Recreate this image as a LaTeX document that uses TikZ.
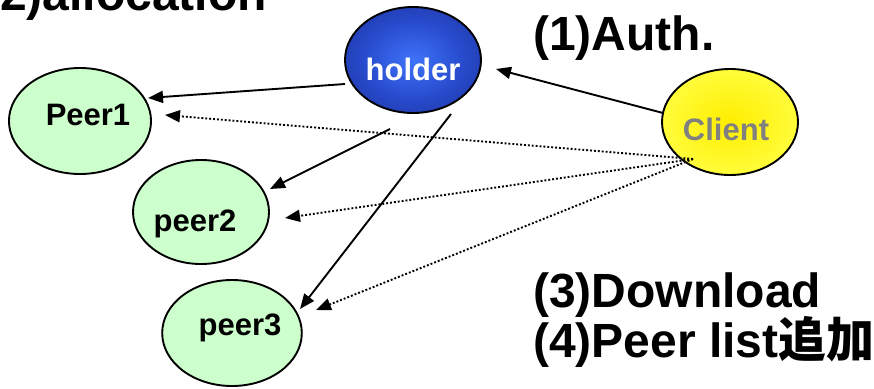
\documentclass[tikz,border=0pt]{standalone}
\usepackage{fontspec}
\setmainfont{Liberation Sans}
\newfontfamily\cjk{Noto Sans CJK JP}
\usetikzlibrary{calc,arrows.meta,shapes.geometric}
\definecolor{peerfill}{RGB}{204,255,204}
\definecolor{clientgrey}{RGB}{128,128,128}
\definecolor{hc}{RGB}{62,115,250}
\definecolor{hm}{RGB}{40,75,205}
\definecolor{ho}{RGB}{18,28,115}
\definecolor{cc}{RGB}{255,238,0}
\definecolor{co}{RGB}{255,255,70}
\pgfdeclareradialshading{holdershade}{\pgfpoint{0bp}{0bp}}{color(0bp)=(hc); color(18bp)=(hm); color(50bp)=(ho)}
\pgfdeclareradialshading{clientshade}{\pgfpoint{0bp}{0bp}}{color(0bp)=(cc); color(30bp)=(co); color(50bp)=(co)}
\newcommand{\lbl}[3]{\raisebox{#1}[0pt][0pt]{\kern#2#3}}
\tikzset{
  ell/.style={ellipse, draw=black, line width=1.9pt, inner sep=0pt,
    minimum width=136pt, minimum height=106pt,
    font=\fontsize{31}{34}\selectfont\bfseries},
  peernode/.style={ell, fill=peerfill},
  big/.style={font=\fontsize{48}{52}\selectfont\bfseries, inner sep=0pt, anchor=base west},
  arr/.style={line width=1.9pt, -{Triangle[length=15pt,width=12pt]}},
  dotarr/.style={line width=1.9pt, dash pattern=on 1.9pt off 2pt, -{Triangle[length=15pt,width=12pt]}}
}
\begin{document}
\begin{tikzpicture}[x=1pt,y=-1pt]
\useasboundingbox (0,0) rectangle (874,388);
\clip (0,0) rectangle (874,388);
\node[ell, shading=holdershade, text=white] (holder) at (413,60) {\lbl{-20pt}{0pt}{holder}};
\node[ell, shading=clientshade, text=clientgrey] (client) at (730,122) {\lbl{-18pt}{0pt}{Client\kern8pt}};
\node[peernode] (p1) at (80,121) {\lbl{-4pt}{16pt}{Peer1}};
\node[peernode, minimum height=104pt] (p2) at (201,212) {\lbl{-19pt}{0pt}{peer2\kern12pt}};
\node[peernode] (p3) at (232,333) {\lbl{-2pt}{16pt}{peer3}};
\node[big] (t2) at (-16,10) {(2)allocation};
\node[big] (t1) at (533,50) {(1)Auth.};
\node[big] (t3) at (533,307) {(3)Download};
\node[big] (t4) at (533,357) {(4)Peer list{\cjk\bfseries 追加}};
\coordinate (cd) at ($(client)+(-37,37)$);
\draw[arr] ($(client)+(-67,-9)$) -- ($(holder)+(83,9)$);
\draw[arr] ($(holder)+(-68,24)$) -- ($(p1)+(68,-23)$);
\draw[arr] ($(holder)+(-23,69)$) -- ($(p2)+(69,-23)$);
\draw[arr] ($(holder)+(38,54)$) -- ($(p3)+(68,-24)$);
\draw[dotarr] (cd) -- ($(p1)+(85,-6)$);
\draw[dotarr] (cd) -- ($(p2)+(84,6)$);
\draw[dotarr] (cd) -- ($(p3)+(84,-23)$);
\end{tikzpicture}
\end{document}
